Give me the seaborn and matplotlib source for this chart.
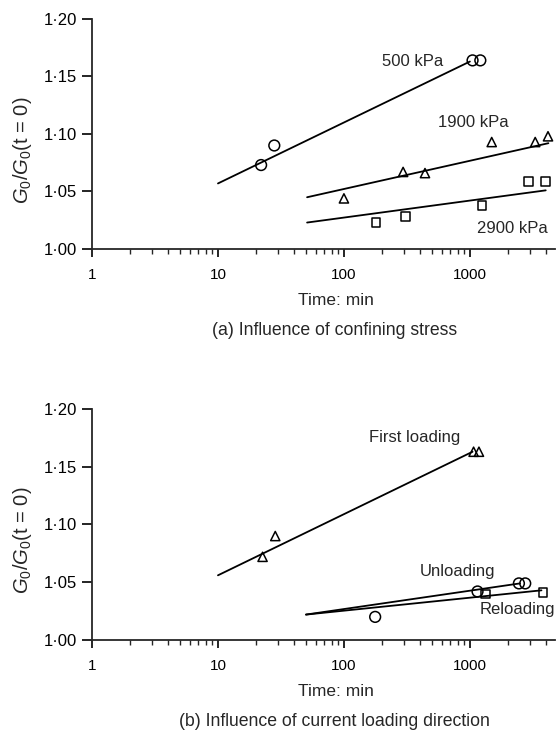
import matplotlib
matplotlib.use("Agg")
import matplotlib.pyplot as plt
import matplotlib.ticker as mticker
import seaborn as sns
import pandas as pd

# ---------------- data ----------------
# (a) confining stress
t_500 = [22, 28, 1050, 1210]
g_500 = [1.073, 1.090, 1.164, 1.164]
t_1900 = [100, 295, 440, 1490, 3300, 4170]
g_1900 = [1.044, 1.067, 1.066, 1.093, 1.093, 1.098]
t_2900 = [180, 310, 1250, 2900, 4000]
g_2900 = [1.023, 1.028, 1.038, 1.059, 1.059]
fit_500_t, fit_500_g = [10, 1000], [1.057, 1.163]
fit_1900_t, fit_1900_g = [51, 4200], [1.045, 1.092]
fit_2900_t, fit_2900_g = [51, 4000], [1.023, 1.051]

# (b) loading direction
t_first = [22.6, 28.5, 1070, 1180]
g_first = [1.072, 1.090, 1.163, 1.163]
t_unload = [177, 1150, 2450, 2750]
g_unload = [1.020, 1.042, 1.049, 1.049]
t_reload = [1330, 3800]
g_reload = [1.040, 1.041]
fit_first_t, fit_first_g = [10, 1050], [1.056, 1.163]
fit_unload_t, fit_unload_g = [50, 2500], [1.022, 1.049]
fit_reload_t, fit_reload_g = [50, 3700], [1.022, 1.043]

xticks = [1, 10, 100, 1000]
xtick_labels = ["1", "10", "100", "1000"]
yticks = [1.00, 1.05, 1.10, 1.15, 1.20]
ytick_labels = ["1·00", "1·05", "1·10", "1·15", "1·20"]

# ---------------- style ----------------
sns.set_theme(style="ticks")
plt.rcParams["font.family"] = ["Liberation Sans", "DejaVu Sans"]
plt.rcParams["mathtext.fontset"] = "custom"
plt.rcParams["mathtext.rm"] = "Liberation Sans"
plt.rcParams["mathtext.it"] = "Liberation Sans:italic"
plt.rcParams["axes.linewidth"] = 1.3

fig = plt.figure(figsize=(5.6, 7.33), dpi=100)
ax_a = fig.add_axes([0.1643, 0.6603, 0.827, 0.3138])
ax_b = fig.add_axes([0.1643, 0.1269, 0.827, 0.3151])

mk = dict(facecolor="none", edgecolor="black", linewidth=1.1, legend=False, zorder=3)
ln = dict(color="black", linewidth=1.3, legend=False, estimator=None, sort=False)


def fit(ax, t, g):
    sns.lineplot(data=pd.DataFrame({"t": t, "g": g}), x="t", y="g", ax=ax, **ln)


def pts(ax, t, g, marker, s):
    sns.scatterplot(data=pd.DataFrame({"t": t, "g": g}), x="t", y="g", ax=ax,
                    marker=marker, s=s, **mk)


# panel (a)
fit(ax_a, fit_500_t, fit_500_g)
fit(ax_a, fit_1900_t, fit_1900_g)
fit(ax_a, fit_2900_t, fit_2900_g)
pts(ax_a, t_500, g_500, "o", 60)
pts(ax_a, t_1900, g_1900, "^", 44)
pts(ax_a, t_2900, g_2900, "s", 40)
ax_a.text(620, 1.163, "500 kPa", ha="right", va="center", fontsize=12)
ax_a.text(557, 1.110, "1900 kPa", ha="left", va="center", fontsize=12)
ax_a.text(1137, 1.018, "2900 kPa", ha="left", va="center", fontsize=12)

# panel (b)
fit(ax_b, fit_first_t, fit_first_g)
fit(ax_b, fit_unload_t, fit_unload_g)
fit(ax_b, fit_reload_t, fit_reload_g)
pts(ax_b, t_first, g_first, "^", 44)
pts(ax_b, t_unload, g_unload, "o", 60)
pts(ax_b, t_reload, g_reload, "s", 36)
ax_b.text(158, 1.175, "First loading", ha="left", va="center", fontsize=12)
ax_b.text(401, 1.059, "Unloading", ha="left", va="center", fontsize=12)
ax_b.text(1200, 1.026, "Reloading", ha="left", va="center", fontsize=12)

captions = ["(a) Influence of confining stress",
            "(b) Influence of current loading direction"]

for ax, cap in zip([ax_a, ax_b], captions):
    ax.set_xscale("log")
    ax.set_xlim(1, 4750)
    ax.set_ylim(1.0, 1.20)
    ax.xaxis.set_major_locator(mticker.FixedLocator(xticks))
    ax.xaxis.set_major_formatter(mticker.FixedFormatter(xtick_labels))
    ax.xaxis.set_minor_locator(mticker.LogLocator(base=10, subs=range(2, 10), numticks=20))
    ax.xaxis.set_minor_formatter(mticker.NullFormatter())
    ax.yaxis.set_major_locator(mticker.FixedLocator(yticks))
    ax.yaxis.set_major_formatter(mticker.FixedFormatter(ytick_labels))
    ax.tick_params(axis="x", which="major", direction="out", length=6, width=1.2,
                   pad=8, labelsize=11, colors="black")
    ax.tick_params(axis="x", which="minor", direction="out", length=3.5, width=1.0)
    ax.tick_params(axis="y", which="major", direction="out", length=7, width=1.2,
                   pad=4, labelsize=12, colors="black")
    sns.despine(ax=ax)
    ax.set_xlabel("Time: min", fontsize=12.5, labelpad=7)
    ax.xaxis.set_label_coords(0.527, -0.225)
    ax.xaxis.label.set_va("center")
    ax.set_ylabel(r"$G_0/G_0$(t = 0)", fontsize=14.5)
    ax.yaxis.set_label_coords(-0.125, 0.43)
    ax.text(0.523, -0.355, cap, transform=ax.transAxes, ha="center", va="center",
            fontsize=12.7)

fig.savefig("out.png", dpi=100)
